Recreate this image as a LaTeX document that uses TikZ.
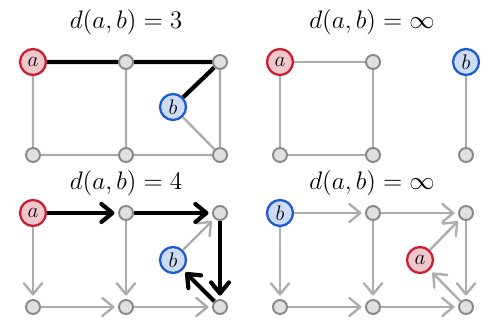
\documentclass[tikz,border=0pt]{standalone}
\usepackage{amsmath, amssymb}
\usetikzlibrary{arrows.meta, positioning}
\definecolor{vertexred}{RGB}{200,30,50}
\definecolor{vertexblue}{RGB}{30,90,210}
\definecolor{vertexgray}{RGB}{135,135,135}
\definecolor{edgegray}{RGB}{172,172,172}
\begin{document}
\begin{tikzpicture}[x=0.02cm, y=-0.02cm, >={Straight Barb[length=2.2mm, width=3.6mm, round]},
        vertex/.style={circle, line width=1.1pt, draw=vertexgray, fill=black!12, minimum size=0.28cm, inner sep=0pt},
        avertex/.style={circle, line width=1.3pt, draw=vertexred, fill=vertexred!25, minimum size=0.52cm, inner sep=0pt, font=\fontsize{13}{15}\selectfont},
        bvertex/.style={circle, line width=1.3pt, draw=vertexblue, fill=vertexblue!22, minimum size=0.52cm, inner sep=0pt, font=\fontsize{13}{15}\selectfont},
        edge/.style={line width=1.35pt, draw=edgegray},
        path/.style={line width=2.4pt, draw=black},
        title/.style={font=\fontsize{14.5}{17}\selectfont}]
      \useasboundingbox (0,0) rectangle (500,334);
      % top left: undirected, distance 3
      \node[title] (t1) at (126,22) {$d(a,b) = 3$};
      \node[avertex] (a1) at (33,62) {$a$};
      \node[vertex] (u1) at (126,62) {};
      \node[vertex] (v1) at (220,62) {};
      \node[bvertex] (b1) at (173,107) {$b$};
      \node[vertex] (w1) at (33,155) {};
      \node[vertex] (x1) at (126,155) {};
      \node[vertex] (y1) at (220,155) {};
      \draw[edge] (a1) -- (w1) (u1) -- (x1) (v1) -- (y1)
                  (w1) -- (x1) (x1) -- (y1) (b1) -- (y1);
      \draw[path] (a1) -- (u1) (u1) -- (v1) (v1) -- (b1);
      % top right: undirected, no path
      \node[title] (t2) at (372,22) {$d(a,b) = \infty$};
      \node[avertex] (a2) at (280,62) {$a$};
      \node[vertex] (u2) at (373,62) {};
      \node[bvertex] (b2) at (466,62) {$b$};
      \node[vertex] (w2) at (280,155) {};
      \node[vertex] (x2) at (373,155) {};
      \node[vertex] (y2) at (466,155) {};
      \draw[edge] (a2) -- (u2) (u2) -- (x2) (a2) -- (w2)
                  (w2) -- (x2) (b2) -- (y2);
      % bottom left: directed, distance 4
      \node[title] (t3) at (126,183) {$d(a,b) = 4$};
      \node[avertex] (a3) at (33,213) {$a$};
      \node[vertex] (u3) at (126,213) {};
      \node[vertex] (v3) at (220,213) {};
      \node[bvertex] (b3) at (173,260) {$b$};
      \node[vertex] (w3) at (33,307) {};
      \node[vertex] (x3) at (126,307) {};
      \node[vertex] (y3) at (220,307) {};
      \path[edge, ->, shorten >=2pt] (a3) edge (w3) (u3) edge (x3)
                  (w3) edge (x3) (x3) edge (y3) (b3) edge (v3);
      \path[path, ->, shorten >=2pt] (a3) edge (u3) (u3) edge (v3)
                  (v3) edge (y3) (y3) edge (b3);
      % bottom right: directed, no path
      \node[title] (t4) at (372,183) {$d(a,b) = \infty$};
      \node[bvertex] (b4) at (280,213) {$b$};
      \node[vertex] (u4) at (373,213) {};
      \node[vertex] (v4) at (466,213) {};
      \node[avertex] (a4) at (420,260) {$a$};
      \node[vertex] (w4) at (280,307) {};
      \node[vertex] (x4) at (373,307) {};
      \node[vertex] (y4) at (466,307) {};
      \path[edge, ->, shorten >=2pt] (b4) edge (u4) (u4) edge (v4) (v4) edge (y4)
                  (b4) edge (w4) (u4) edge (x4) (w4) edge (x4)
                  (x4) edge (y4) (y4) edge (a4) (a4) edge (v4);
    \end{tikzpicture}
\end{document}
